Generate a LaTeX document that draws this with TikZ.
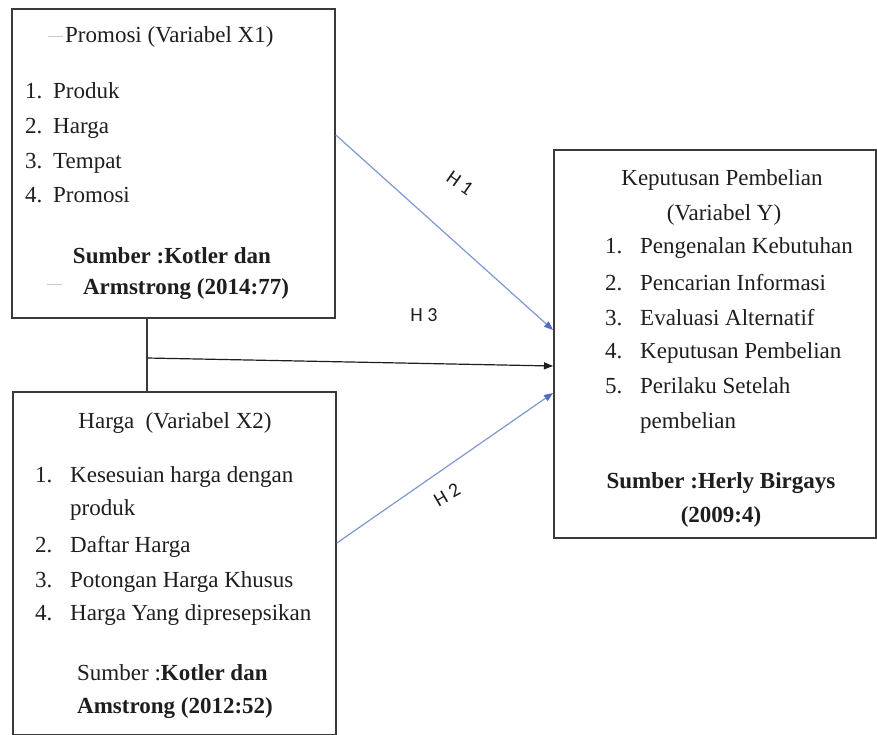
\documentclass[tikz,border=0pt]{standalone}
\usepackage{fontspec}
\setmainfont{Liberation Serif}
\setsansfont{Carlito}
\usetikzlibrary{arrows.meta}
\definecolor{boxc}{HTML}{3A3A3A}
\definecolor{txtc}{HTML}{1E1E1E}
\definecolor{arrb}{HTML}{7E98D4}
\definecolor{tipb}{HTML}{4E6EC4}
\definecolor{faint}{HTML}{C8C8C8}
\tikzset{
  box/.style={draw=boxc, line width=1.8pt, inner sep=0pt, anchor=north west},
  txt/.style={inner sep=0pt, text=txtc, text height=16pt, text depth=5pt, font=\fontsize{23}{28}\selectfont},
  ltxt/.style={txt, anchor=west},
  hlab/.style={inner sep=0pt, text=txtc, font=\sffamily\fontsize{20}{22}\selectfont},
  barrow/.style={draw=arrb, line width=1.2pt, -{Triangle[length=9pt,width=7pt,color=tipb]}},
  karrow/.style={draw=txtc, line width=1.2pt, -{Triangle[length=9pt,width=7pt]}},
  joint/.style={draw=boxc, line width=1.2pt},
  artifact/.style={draw=faint, line width=1pt}
}
\begin{document}
\begin{tikzpicture}[x=1pt,y=-1pt]
\useasboundingbox[fill=white] (0,0) rectangle (877,735);
% boxes
\node[box, minimum width=323pt, minimum height=309pt] (X1) at (11,8) {};
\node[box, minimum width=323pt, minimum height=343pt] (X2) at (12,391) {};
\node[box, minimum width=322pt, minimum height=388pt] (Y) at (553,149) {};
% X1 texts
\draw[artifact] (48,37) -- (63,37);
\node[ltxt] (x1t) at (65,37) {Promosi (Variabel X1)};
\node[ltxt] (x1n1) at (25,93) {1.};
\node[ltxt] (x1i1) at (53,93) {Produk};
\node[ltxt] (x1n2) at (25,128) {2.};
\node[ltxt] (x1i2) at (53,128) {Harga};
\node[ltxt] (x1n3) at (25,163) {3.};
\node[ltxt] (x1i3) at (53,163) {Tempat};
\node[ltxt] (x1n4) at (25,197) {4.};
\node[ltxt] (x1i4) at (53,197) {Promosi};
\node[txt] (x1s1) at (172,258) {\textbf{Sumber :Kotler dan}};
\draw[artifact] (47,284) -- (62,284);
\node[txt] (x1s2) at (186,289) {\textbf{Armstrong (2014:77)}};
% X2 texts
\node[txt] (x2t) at (175,423) {Harga\ \ (Variabel X2)};
\node[ltxt] (x2n1) at (35,477) {1.};
\node[ltxt] (x2i1) at (70,477) {Kesesuian harga dengan};
\node[ltxt] (x2i1b) at (70,510) {produk};
\node[ltxt] (x2n2) at (35,547) {2.};
\node[ltxt] (x2i2) at (70,547) {Daftar Harga};
\node[ltxt] (x2n3) at (35,582) {3.};
\node[ltxt] (x2i3) at (70,582) {Potongan Harga Khusus};
\node[ltxt] (x2n4) at (35,615) {4.};
\node[ltxt] (x2i4) at (70,615) {Harga Yang dipresepsikan};
\node[ltxt] (x2s1) at (77,675) {Sumber :\textbf{Kotler dan}};
\node[ltxt] (x2s2) at (77,708) {\textbf{Amstrong (2012:52)}};
% Y texts
\node[txt] (yt1) at (722,180) {Keputusan Pembelian};
\node[txt] (yt2) at (724,215) {(Variabel Y)};
\node[ltxt] (yn1) at (605,248) {1.};
\node[ltxt] (yi1) at (640,248) {Pengenalan Kebutuhan};
\node[ltxt] (yn2) at (605,285) {2.};
\node[ltxt] (yi2) at (640,285) {Pencarian Informasi};
\node[ltxt] (yn3) at (605,320) {3.};
\node[ltxt] (yi3) at (640,320) {Evaluasi Alternatif};
\node[ltxt] (yn4) at (605,353) {4.};
\node[ltxt] (yi4) at (640,353) {Keputusan Pembelian};
\node[ltxt] (yn5) at (605,388) {5.};
\node[ltxt] (yi5) at (640,388) {Perilaku Setelah};
\node[ltxt] (yi5b) at (640,423) {pembelian};
\node[txt] (ys1) at (721,483) {\textbf{Sumber :Herly Birgays}};
\node[txt] (ys2) at (721,517) {\textbf{(2009:4)}};
% connector points
\coordinate (jx) at (147,358);
\coordinate (h1s) at (334,135);
\coordinate (h1e) at (553,330);
\coordinate (h2s) at (335,543);
\coordinate (h2e) at (553,393);
\coordinate (h3e) at (553,366);
% connectors
\draw[joint] (X1.south -| jx) -- (X2.north -| jx);
\draw[karrow] (jx) -- (Y.west |- h3e);
\draw[barrow] (X1.east |- h1s) -- (Y.west |- h1e);
\draw[barrow] (X2.east |- h2s) -- (Y.west |- h2e);
% labels
\node[hlab, rotate=-35] (lh1) at (460,183) {H 1};
\node[hlab] (lh3) at (424,315) {H 3};
\node[hlab, rotate=30] (lh2) at (447,495) {H 2};
\end{tikzpicture}
\end{document}
